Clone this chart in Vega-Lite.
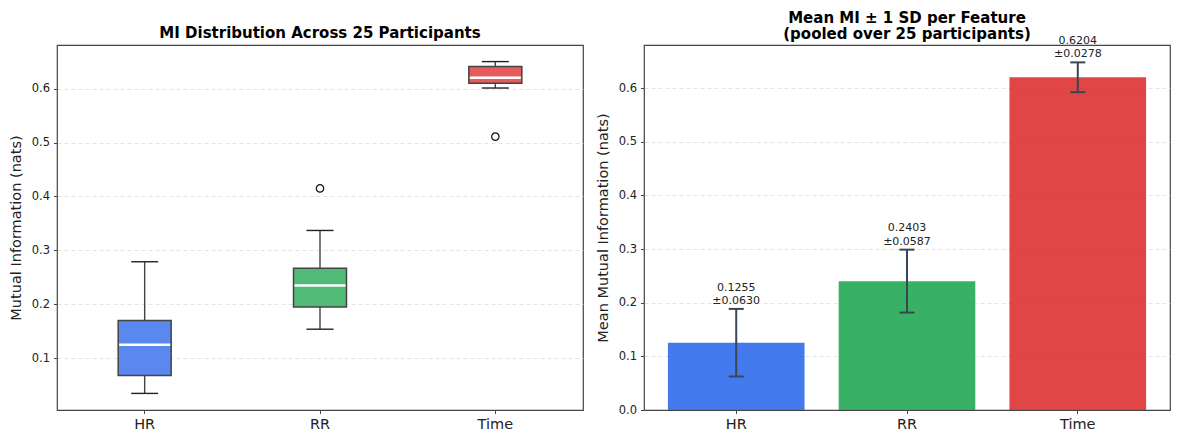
{
  "$schema": "https://vega.github.io/schema/vega-lite/v6.json",
  "background": "white",
  "padding": {"left": 7, "top": 9, "right": 10, "bottom": 4},
  "bounds": "flush",
  "spacing": 61,
  "config": {
    "font": "DejaVu Sans",
    "view": {"stroke": "#444", "strokeWidth": 1.2},
    "axis": {"domain": false, "tickColor": "#444", "labelColor": "#222", "titleColor": "#222", "titleFontWeight": "normal", "titleFontSize": 14.5, "labelFontSize": 11.5, "gridColor": "#dddddd", "gridDash": [4, 3], "gridWidth": 0.8, "tickSize": 3.5, "labelPadding": 4},
    "title": {"fontSize": 15, "fontWeight": "bold", "color": "#000", "offset": 4, "lineHeight": 16.5}
  },
  "datasets": {
    "boxes": [
      {"feature": "HR", "lower": 0.035, "q1": 0.068, "median": 0.125, "q3": 0.170, "upper": 0.279},
      {"feature": "RR", "lower": 0.154, "q1": 0.195, "median": 0.235, "q3": 0.267, "upper": 0.337},
      {"feature": "Time", "lower": 0.601, "q1": 0.610, "median": 0.620, "q3": 0.641, "upper": 0.650}
    ],
    "outliers": [
      {"feature": "RR", "value": 0.415},
      {"feature": "Time", "value": 0.511}
    ],
    "means": [
      {"feature": "HR", "mean": 0.1255, "sd": 0.0630, "lo": 0.0625, "hi": 0.1885, "label": "0.1255\n±0.0630"},
      {"feature": "RR", "mean": 0.2403, "sd": 0.0587, "lo": 0.1816, "hi": 0.2990, "label": "0.2403\n±0.0587"},
      {"feature": "Time", "mean": 0.6204, "sd": 0.0278, "lo": 0.5926, "hi": 0.6482, "label": "0.6204\n±0.0278"}
    ]
  },
  "hconcat": [
    {
      "title": {"text": "MI Distribution Across 25 Participants"},
      "width": 526,
      "height": 365,
      "encoding": {
        "x": {"field": "feature", "type": "nominal", "sort": ["HR", "RR", "Time"],
              "scale": {"paddingInner": 0, "paddingOuter": 0},
              "axis": {"title": null, "labelAngle": 0, "labelFontSize": 14.5, "grid": false}}
      },
      "layer": [
        {
          "data": {"name": "boxes"},
          "mark": {"type": "rule", "stroke": "#444", "strokeWidth": 1.4},
          "encoding": {
            "y": {"field": "lower", "type": "quantitative",
                  "scale": {"domain": [0.00425, 0.68075], "nice": false, "zero": false},
                  "axis": {"title": "Mutual Information (nats)", "values": [0.1, 0.2, 0.3, 0.4, 0.5, 0.6], "format": ".1f", "grid": true, "titlePadding": 8}},
            "y2": {"field": "upper"}
          }
        },
        {
          "data": {"name": "boxes"},
          "mark": {"type": "tick", "color": "#222", "size": 27, "thickness": 1.4, "orient": "horizontal", "opacity": 1},
          "encoding": {"y": {"field": "lower", "type": "quantitative"}}
        },
        {
          "data": {"name": "boxes"},
          "mark": {"type": "tick", "color": "#222", "size": 27, "thickness": 1.4, "orient": "horizontal", "opacity": 1},
          "encoding": {"y": {"field": "upper", "type": "quantitative"}}
        },
        {
          "data": {"name": "boxes"},
          "mark": {"type": "bar", "size": 53, "stroke": "#444", "strokeWidth": 1.5},
          "encoding": {
            "y": {"field": "q1", "type": "quantitative"},
            "y2": {"field": "q3"},
            "color": {"field": "feature", "type": "nominal", "legend": null,
                      "scale": {"domain": ["HR", "RR", "Time"], "range": ["#5b88ee", "#50ba77", "#e55c5c"]}}
          }
        },
        {
          "data": {"name": "boxes"},
          "mark": {"type": "tick", "color": "white", "size": 51, "thickness": 2.5, "orient": "horizontal", "opacity": 1},
          "encoding": {"y": {"field": "median", "type": "quantitative"}}
        },
        {
          "data": {"name": "outliers"},
          "mark": {"type": "point", "shape": "circle", "filled": false, "stroke": "#111", "strokeWidth": 1.2, "size": 55, "opacity": 1},
          "encoding": {"y": {"field": "value", "type": "quantitative"}}
        }
      ],
      "resolve": {"scale": {"color": "independent"}}
    },
    {
      "title": {"text": ["Mean MI ± 1 SD per Feature", "(pooled over 25 participants)"], "offset": -7},
      "width": 526,
      "height": 365,
      "data": {"name": "means"},
      "encoding": {
        "x": {"field": "feature", "type": "nominal", "sort": ["HR", "RR", "Time"],
              "scale": {"paddingInner": 0.2, "paddingOuter": 0.14},
              "axis": {"title": null, "labelAngle": 0, "labelFontSize": 14.5, "grid": false, "domain": true, "domainColor": "#444", "domainWidth": 1.2, "zindex": 1}}
      },
      "layer": [
        {
          "mark": {"type": "bar", "opacity": 0.85},
          "encoding": {
            "y": {"field": "mean", "type": "quantitative",
                  "scale": {"domain": [0, 0.6806], "nice": false},
                  "axis": {"title": "Mean Mutual Information (nats)", "values": [0, 0.1, 0.2, 0.3, 0.4, 0.5, 0.6], "format": ".1f", "grid": true, "titlePadding": 8}},
            "color": {"field": "feature", "type": "nominal", "legend": null,
                      "scale": {"domain": ["HR", "RR", "Time"], "range": ["#2563eb", "#16a34a", "#dc2626"]}}
          }
        },
        {
          "mark": {"type": "rule", "stroke": "#3a4556", "strokeWidth": 2},
          "encoding": {"y": {"field": "lo", "type": "quantitative"}, "y2": {"field": "hi"}}
        },
        {
          "mark": {"type": "tick", "color": "#3a4556", "size": 15, "thickness": 2, "orient": "horizontal", "opacity": 1},
          "encoding": {"y": {"field": "lo", "type": "quantitative"}}
        },
        {
          "mark": {"type": "tick", "color": "#3a4556", "size": 15, "thickness": 2, "orient": "horizontal", "opacity": 1},
          "encoding": {"y": {"field": "hi", "type": "quantitative"}}
        },
        {
          "mark": {"type": "text", "baseline": "bottom", "align": "center", "dy": -16.3, "fontSize": 11, "color": "#222", "lineBreak": "\n", "lineHeight": 13.3},
          "encoding": {"y": {"field": "hi", "type": "quantitative"}, "text": {"field": "label"}}
        }
      ],
      "resolve": {"scale": {"color": "independent"}}
    }
  ],
  "resolve": {"scale": {"color": "independent"}}
}
